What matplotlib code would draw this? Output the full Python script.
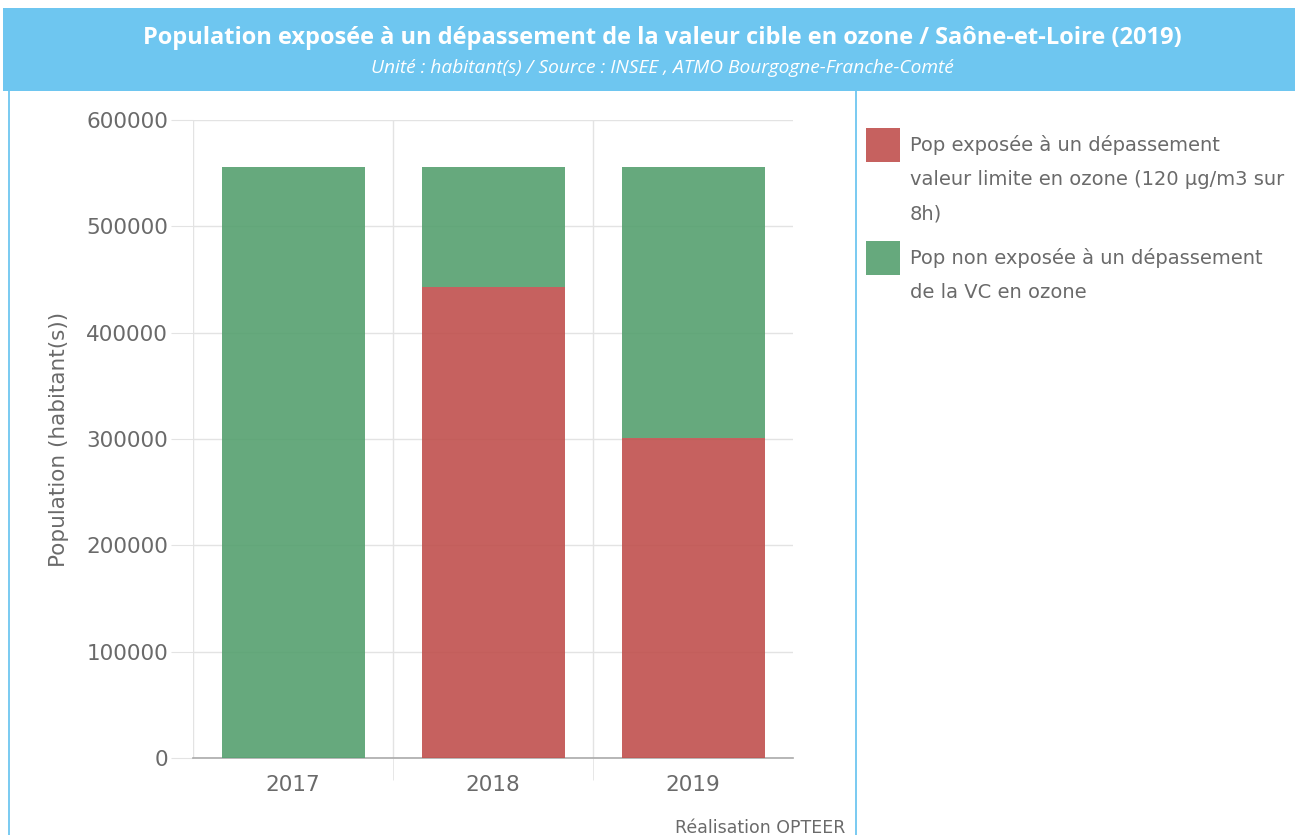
import matplotlib
matplotlib.use("Agg")
import matplotlib.pyplot as plt
from matplotlib.patches import Rectangle
from matplotlib.lines import Line2D

# Data
years = ["2017", "2018", "2019"]
exposed = [0, 443000, 301000]
not_exposed = [556000, 113000, 255000]
series_labels = [
    "Pop exposée à un dépassement\nvaleur limite en ozone (120 µg/m3 sur\n8h)",
    "Pop non exposée à un dépassement\nde la VC en ozone",
]
y_ticks = [0, 100000, 200000, 300000, 400000, 500000, 600000]

title = "Population exposée à un dépassement de la valeur cible en ozone / Saône-et-Loire (2019)"
subtitle = "Unité : habitant(s) / Source : INSEE , ATMO Bourgogne-Franche-Comté"

red = "#C0504D"
green = "#55A06F"
header = "#6EC6F0"
grid_c = "#E3E3E3"
text_c = "#6A6A6A"

W, H = 1295, 835
fig = plt.figure(figsize=(W / 100, H / 100), dpi=100)
fig.patch.set_facecolor("white")


def fx(x):
    return x / W


def fy(y):
    return 1 - y / H


# Header band and panel borders
fig.add_artist(Rectangle((fx(3), fy(91)), fx(1292), 83 / H, transform=fig.transFigure,
                         facecolor=header, edgecolor="none", zorder=0))
for x in (9, 856):
    fig.add_artist(Line2D([fx(x), fx(x)], [0, fy(91)], transform=fig.transFigure,
                          color=header, linewidth=1.3))

fig.text(fx(662), fy(38), title, ha="center", va="center", color="white",
         fontsize=17, fontweight="bold", family="Open Sans")
fig.text(fx(662), fy(68), subtitle, ha="center", va="center", color="white",
         fontsize=13.8, style="italic", family="Open Sans")

ax = fig.add_axes([fx(193), fy(758), (793 - 193) / W, (758 - 120) / H])
x = list(range(len(years)))
ax.bar(x, exposed, width=0.715, color=red, alpha=0.9, zorder=3, label=series_labels[0])
ax.bar(x, not_exposed, width=0.715, bottom=exposed, color=green, alpha=0.9, zorder=3,
       label=series_labels[1])

ax.set_xlim(-0.5, len(years) - 0.5)
ax.set_ylim(0, 600000)
ax.set_yticks(y_ticks)
ax.set_yticklabels([str(v) for v in y_ticks])
ax.set_xticks(x)
ax.set_xticklabels(years)
ax.set_xticks([i + 0.5 for i in x[:-1]], minor=True)
ax.axvline(-0.5, color=grid_c, linewidth=1, zorder=0)

for s in ("top", "right", "left"):
    ax.spines[s].set_visible(False)
ax.spines["bottom"].set_color("#AAAAAA")
ax.spines["bottom"].set_linewidth(1.2)

ax.grid(axis="y", color=grid_c, linewidth=1, zorder=0)
ax.grid(axis="x", which="minor", color=grid_c, linewidth=1, zorder=0)
ax.tick_params(axis="y", length=16, color=grid_c, labelcolor=text_c, labelsize=15.5, pad=2)
ax.tick_params(axis="x", which="major", length=0, labelcolor=text_c, labelsize=15.5, pad=12)
ax.tick_params(axis="x", which="minor", length=16, color=grid_c)
for lbl in ax.get_xticklabels() + ax.get_yticklabels():
    lbl.set_family("DejaVu Sans")
ax.set_ylabel("Population (habitant(s))", color=text_c, fontsize=15.5, labelpad=12,
              family="DejaVu Sans")

# Legend
legend_rows = [(red, 128, series_labels[0]), (green, 241, series_labels[1])]
for color, top, label in legend_rows:
    fig.add_artist(Rectangle((fx(866), fy(top + 34)), 34 / W, 34 / H, transform=fig.transFigure,
                             facecolor=color, alpha=0.9, edgecolor="none"))
    fig.text(fx(910), fy(top + 7), label, ha="left", va="top", color=text_c,
             fontsize=14, family="DejaVu Sans", linespacing=2.02)

fig.text(fx(845), fy(828), "Réalisation OPTEER", ha="right", va="center", color=text_c,
         fontsize=12.5, family="DejaVu Sans")

fig.savefig("out.png", dpi=100)
